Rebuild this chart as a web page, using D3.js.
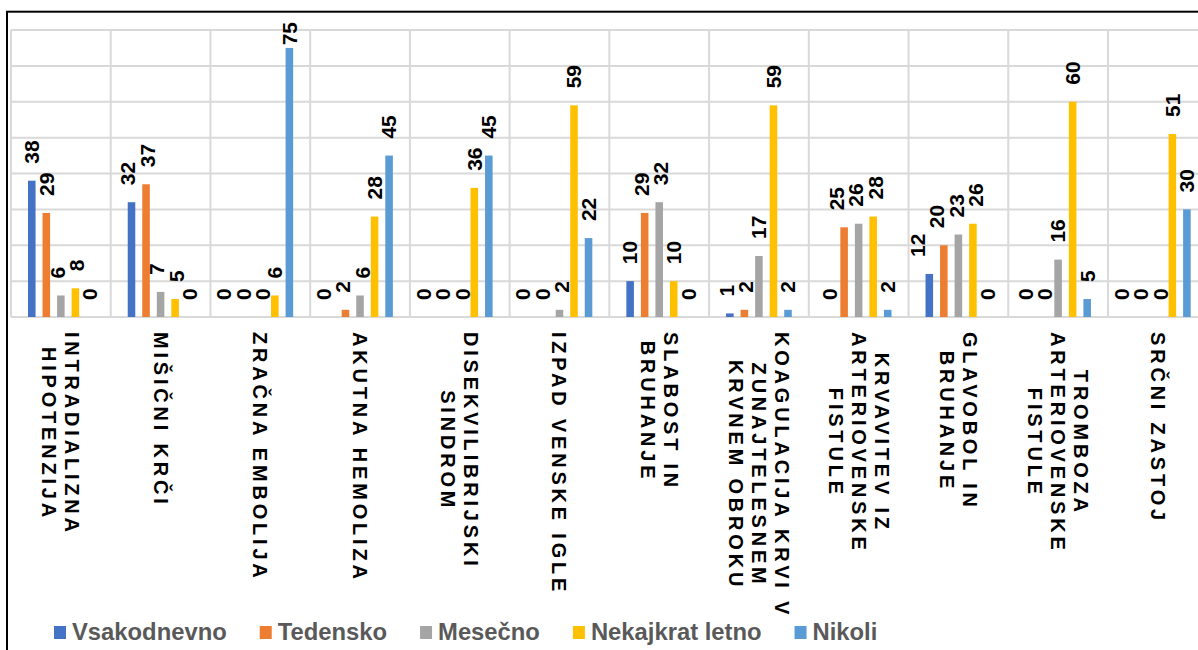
<!DOCTYPE html>
<html>
<head>
<meta charset="utf-8">
<script src="https://cdn.jsdelivr.net/npm/d3@7"></script>
<style>
  html, body { margin: 0; padding: 0; background: #fff; }
  svg { display: block; }
</style>
</head>
<body>
<svg id="chart" width="1198" height="650"></svg>
<script>
// ---------- DATA ----------
const categories = [
  "INTRADIALIZNA\nHIPOTENZIJA",
  "MIŠIČNI KRČI",
  "ZRAČNA EMBOLIJA",
  "AKUTNA HEMOLIZA",
  "DISEKVILIBRIJSKI\nSINDROM",
  "IZPAD VENSKE IGLE",
  "SLABOST IN\nBRUHANJE",
  "KOAGULACIJA KRVI V\nZUNAJTELESNEM\nKRVNEM OBROKU",
  "KRVAVITEV IZ\nARTERIOVENSKE\nFISTULE",
  "GLAVOBOL IN\nBRUHANJE",
  "TROMBOZA\nARTERIOVENSKE\nFISTULE",
  "SRČNI ZASTOJ"
];
const seriesNames = ["Vsakodnevno", "Tedensko", "Mesečno", "Nekajkrat letno", "Nikoli"];
const vsakodnevno    = [38, 32, 0, 0, 0, 0, 10, 1, 0, 12, 0, 0];
const tedensko       = [29, 37, 0, 2, 0, 0, 29, 2, 25, 20, 0, 0];
const mesecno        = [6, 7, 0, 6, 0, 2, 32, 17, 26, 23, 16, 0];
const nekajkratLetno = [8, 5, 6, 28, 36, 59, 10, 59, 28, 26, 60, 51];
const nikoli         = [0, 0, 75, 45, 45, 22, 0, 2, 2, 0, 5, 30];
const seriesColors   = ["#4472C4", "#ED7D31", "#A5A5A5", "#FFC000", "#5B9BD5"];
const yTicks = [0, 10, 20, 30, 40, 50, 60, 70, 80];

const seriesValues = [vsakodnevno, tedensko, mesecno, nekajkratLetno, nikoli];

// ---------- LAYOUT ----------
const svg = d3.select("#chart");
const FONT = "'Liberation Sans', Arial, Helvetica, sans-serif";
const plot = { left: 11, right: 1207.7, top: 30, bottom: 317 };

const x0 = d3.scaleBand().domain(categories).range([plot.left, plot.right]).padding(0);
const x1 = d3.scaleBand().domain(seriesNames).range([17, 82.7]).paddingInner(0.48).paddingOuter(0);
const y = d3.scaleLinear().domain([0, 80]).range([plot.bottom, plot.top]);
const color = d3.scaleOrdinal().domain(seriesNames).range(seriesColors);

// outer frame
svg.append("rect")
  .attr("x", 7).attr("y", 11.7)
  .attr("width", 1400).attr("height", 800)
  .attr("fill", "none").attr("stroke", "#000").attr("stroke-width", 2);

// horizontal gridlines
const grid = svg.append("g");
grid.selectAll("line.h").data(yTicks).join("line")
  .attr("class", "h")
  .attr("x1", plot.left).attr("x2", plot.right)
  .attr("y1", d => y(d)).attr("y2", d => y(d))
  .attr("stroke", "#D9D9D9").attr("stroke-width", 2);

// vertical gridlines (category boundaries)
const boundaries = categories.map(c => x0(c)).concat([x0(categories[categories.length - 1]) + x0.step()]);
grid.selectAll("line.v").data(boundaries).join("line")
  .attr("class", "v")
  .attr("x1", d => d).attr("x2", d => d)
  .attr("y1", plot.top).attr("y2", plot.bottom)
  .attr("stroke", "#D9D9D9").attr("stroke-width", 2);

// bars
const flat = [];
categories.forEach((c, ci) => {
  seriesNames.forEach((s, si) => {
    flat.push({ cat: c, ci, series: s, si, value: seriesValues[si][ci] });
  });
});

const bars = svg.append("g");
bars.selectAll("rect").data(flat).join("rect")
  .attr("x", d => x0(d.cat) + x1(d.series))
  .attr("width", x1.bandwidth())
  .attr("y", d => y(d.value))
  .attr("height", d => y(0) - y(d.value))
  .attr("fill", d => color(d.series));

// data labels
const labelsG = svg.append("g");
const labels = labelsG.selectAll("text").data(flat).join("text")
  .attr("font-family", FONT)
  .attr("font-weight", "bold")
  .attr("font-size", 21)
  .attr("fill", "#000")
  .attr("text-anchor", "start")
  .attr("dy", "0.35em")
  .text(d => d.value);

const GAP = 17, PAD = 3, MIND = 19.5, TOPLIMIT = 22;
labels.each(function (d) {
  d.len = this.getComputedTextLength();
  d.lx = x0(d.cat) + x1(d.series) + x1.bandwidth() / 2;
  let start = y(d.value) - GAP;
  if (start - d.len < TOPLIMIT) start = TOPLIMIT + d.len;
  d.ly = start;
  d.top = start - d.len;
});

// simple overlap avoidance inside each category
d3.groups(flat, d => d.ci).forEach(([, grp]) => {
  for (let iter = 0; iter < 60; iter++) {
    let moved = false;
    for (let i = 0; i < grp.length; i++) {
      for (let j = i + 1; j < grp.length; j++) {
        const a = grp[i], b = grp[j];
        const vOverlap = (a.top - PAD) < (b.ly + PAD) && (b.top - PAD) < (a.ly + PAD);
        const dist = b.lx - a.lx;
        if (vOverlap && dist < MIND) {
          const delta = MIND - dist;
          a.lx -= delta * 0.7;
          b.lx += delta * 0.3;
          moved = true;
        }
      }
    }
    if (!moved) break;
  }
});

labels.attr("transform", d => `translate(${d.lx},${d.ly}) rotate(-90)`);

// category labels
const catG = svg.append("g");
const LABEL_TOP = 332, LINE_H = 23;
categories.forEach(c => {
  const lines = c.split("\n");
  const g = catG.append("g")
    .attr("transform", `translate(${x0(c) + x0.step() / 2},${LABEL_TOP}) rotate(90)`);
  const texts = g.selectAll("text").data(lines).join("text")
    .attr("font-family", FONT)
    .attr("font-weight", "bold")
    .attr("font-size", 20)
    .attr("letter-spacing", 3.8)
    .attr("fill", "#000")
    .attr("text-anchor", "middle")
    .attr("dy", "0.35em")
    .text(d => d);
  let maxLen = 0;
  texts.each(function () { maxLen = Math.max(maxLen, this.getComputedTextLength()); });
  const n = lines.length;
  texts
    .attr("x", maxLen / 2)
    .attr("y", (d, k) => (k - (n - 1) / 2) * LINE_H);
});

// legend
const legend = svg.append("g");
let lxPos = 54;
seriesNames.forEach((s, si) => {
  legend.append("rect")
    .attr("x", lxPos).attr("y", 626)
    .attr("width", 12).attr("height", 13)
    .attr("fill", color(s));
  const t = legend.append("text")
    .attr("x", lxPos + 18).attr("y", 639.5)
    .attr("font-family", FONT)
    .attr("font-weight", "bold")
    .attr("font-size", 23.8)
    .attr("fill", "#595959")
    .text(s);
  lxPos = lxPos + 18 + t.node().getComputedTextLength() + 33;
});
</script>
</body>
</html>
